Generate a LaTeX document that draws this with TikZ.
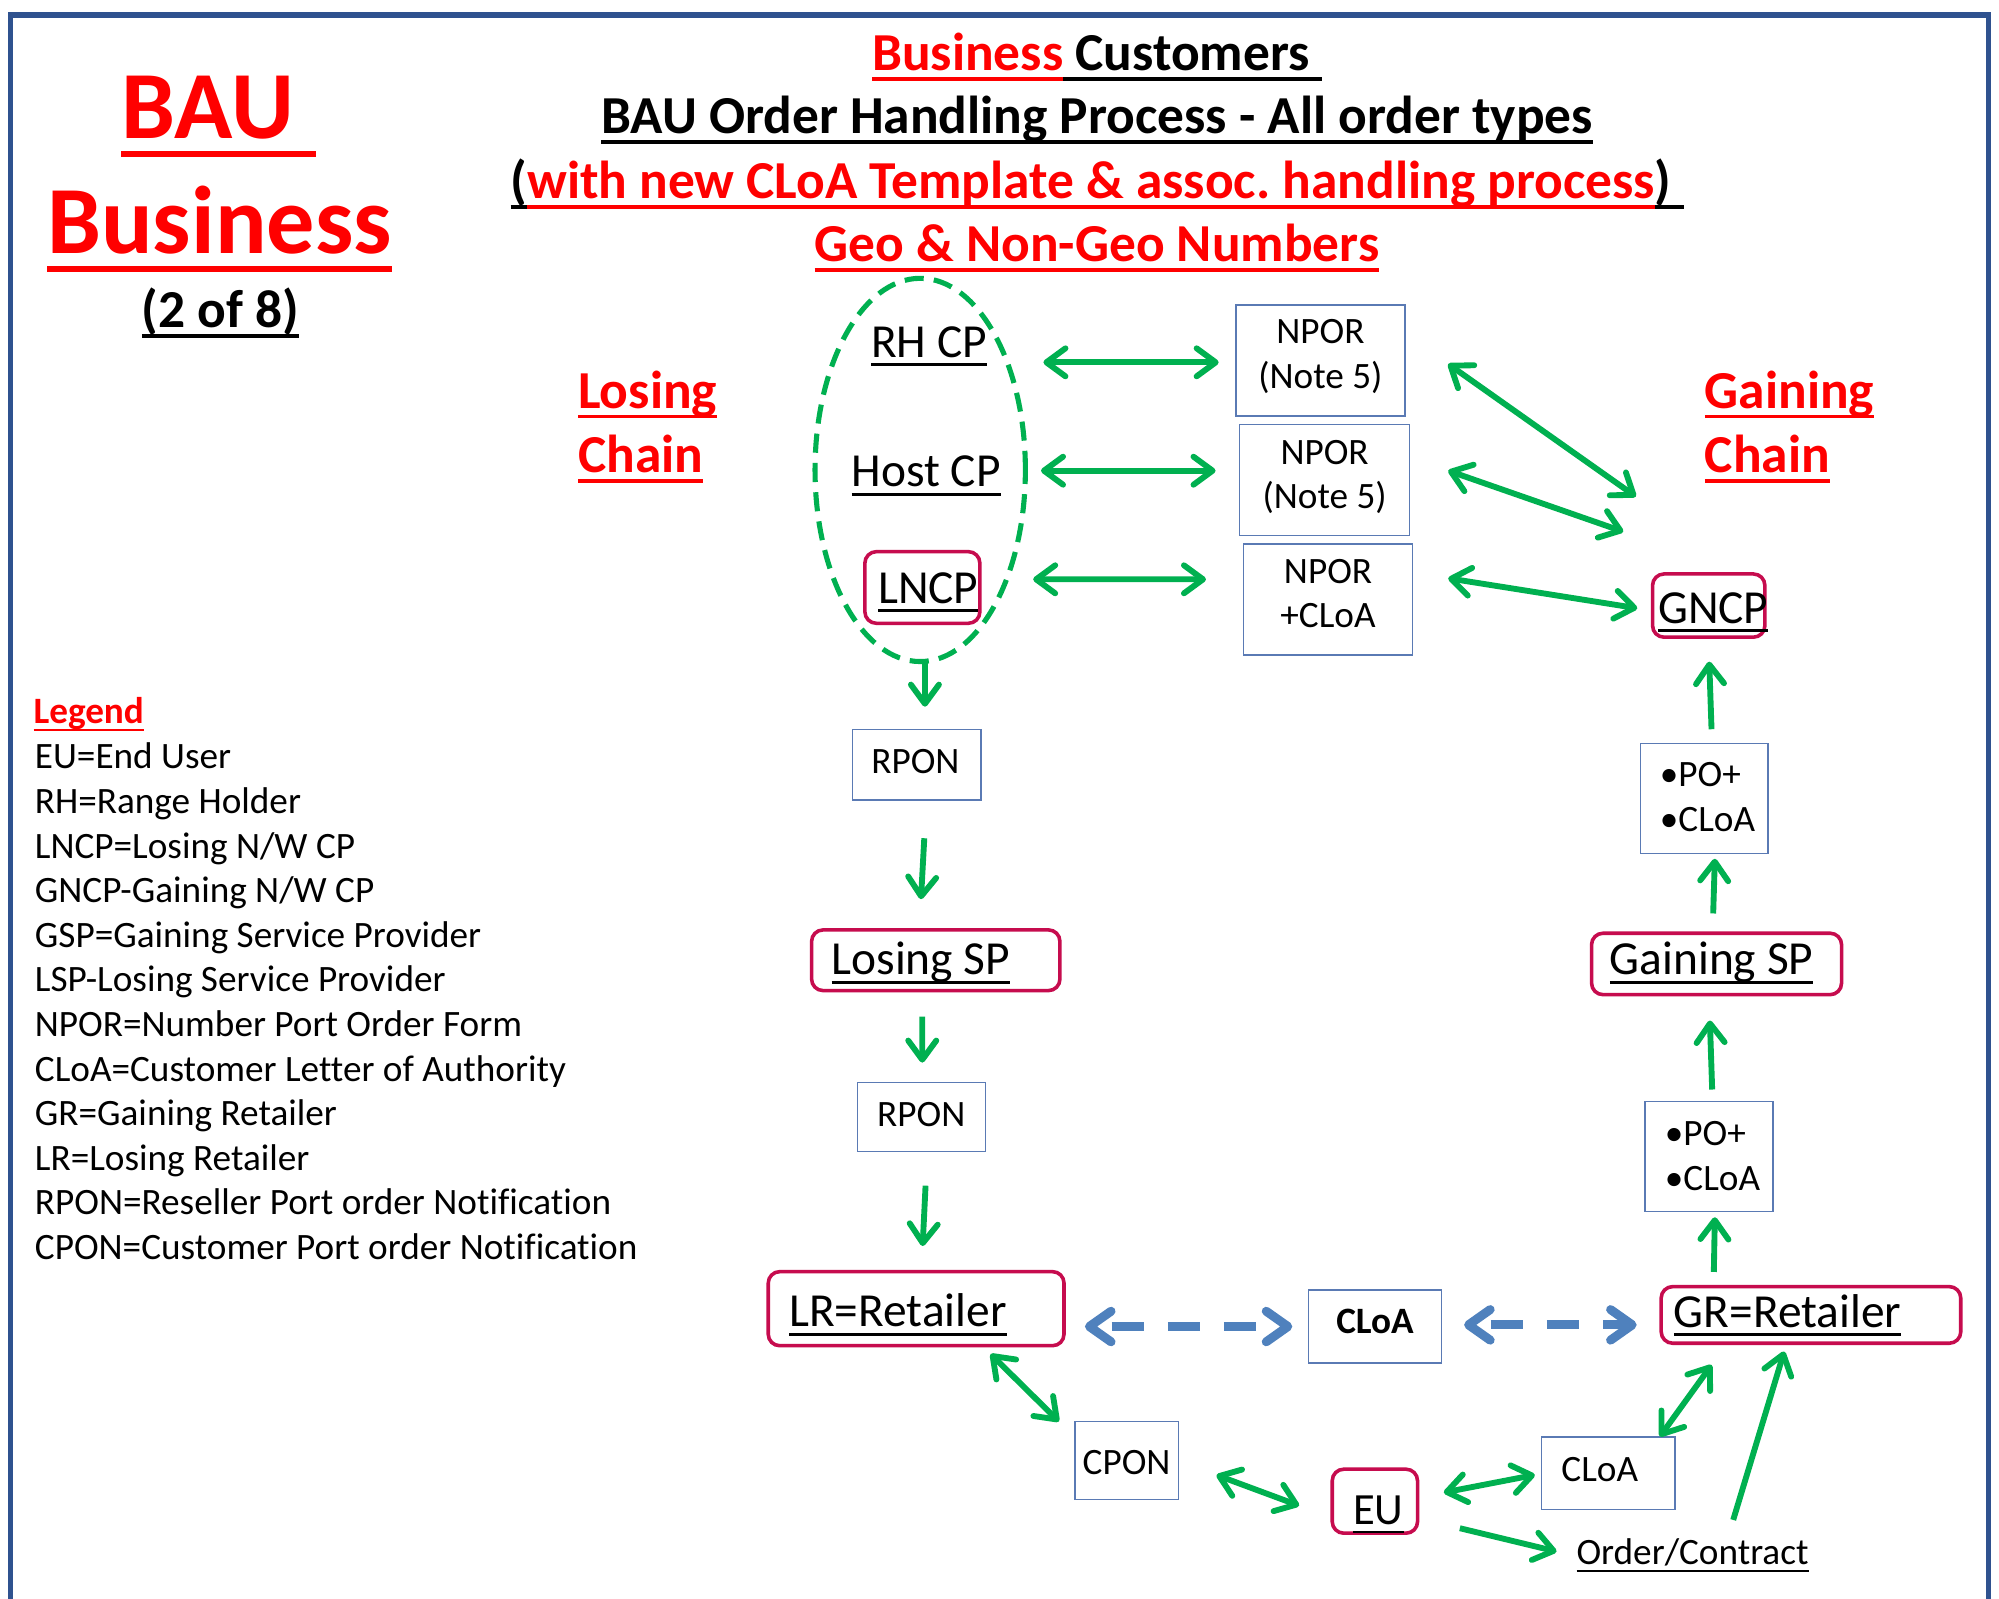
\documentclass[tikz,border=0pt]{standalone}
\usepackage{fontspec}
\setmainfont{Carlito}[Ligatures=NoCommon]
\usetikzlibrary{arrows.meta,calc,shapes.geometric}
\definecolor{frameblue}{RGB}{47,82,143}
\definecolor{agreen}{RGB}{0,176,80}
\definecolor{ablue}{RGB}{79,129,189}
\definecolor{crim}{RGB}{198,12,78}
\definecolor{boxline}{RGB}{90,122,180}
\definecolor{tred}{RGB}{255,0,0}
\newcommand\undl[1]{\setbox0\hbox{#1}\rlap{\rule[-0.19em]{\wd0}{0.062em}}\box0}
\newcommand\fntT{\fontsize{41.9}{50}\selectfont\bfseries}
\newcommand\fntH{\fontsize{75.5}{90}\selectfont\bfseries}
\newcommand\fntB{\fontsize{37.2}{44}\selectfont}
\newcommand\fntE{\fontsize{35}{42}\selectfont}
\newcommand\fntS{\fontsize{29.2}{35}\selectfont}
\frenchspacing
\begin{document}
\begin{tikzpicture}[x=1pt,y=-1pt,
  every node/.style={inner sep=0pt,outer sep=0pt},
  txt/.style={anchor=base west},
  ctxt/.style={anchor=base},
  pbox/.style={draw=boxline,line width=1.1pt,fill=white,rectangle},
  rbox/.style={draw=crim,line width=2.8pt,rounded corners=9pt,rectangle},
  gtip/.tip={Straight Barb[length=15pt,width=22pt,round]},
  btip/.tip={Straight Barb[length=17pt,width=24pt,round]},
  garr/.style={draw=agreen,line width=4.6pt,-gtip},
  gdbl/.style={draw=agreen,line width=4.6pt,gtip-gtip},
  bdbl/.style={draw=ablue,line width=7pt,btip-btip,dash pattern=on 25pt off 19pt,dash phase=30pt}]
\useasboundingbox (0,0) rectangle (1568,1253.5);
\fill[white] (0,0) rectangle (1568,1253.5);
\draw[frameblue,line width=4pt,line join=miter] (8,1260) -- (8,11.8) -- (1560,11.8) -- (1560,1260);

% titles
\node[txt] (bau) at (95.3,108.5) {\fntH\color{tred}\undl{BAU\ }};
\node[txt] (bus) at (37.1,198.7) {\fntH\color{tred}\undl{Business}};
\node[ctxt] (part) at (173,257) {\fntT\undl{(2 of 8)}};
\node[ctxt] (t1) at (860.5,55.4) {\fntT\textcolor{tred}{\undl{Business}}\undl{\ Customers\ }};
\node[ctxt] (t2) at (860.5,104.6) {\fntT\undl{BAU Order Handling Process - All order types}};
\node[ctxt] (t3) at (860.5,155.6) {\fntT\undl{(}\textcolor{tred}{\undl{with new CLoA Template \& assoc. handling process}}\undl{)\ }};
\node[ctxt] (t4) at (860.5,205) {\fntT\color{tred}\undl{Geo \& Non-Geo Numbers}};
\node[txt] (los1) at (453.5,320.3) {\fntT\color{tred}\undl{Losing}};
\node[txt] (los2) at (453.5,370.7) {\fntT\color{tred}\undl{Chain}};
\node[txt] (gai1) at (1337.3,320.3) {\fntT\color{tred}\undl{Gaining}};
\node[txt] (gai2) at (1337.3,370.7) {\fntT\color{tred}\undl{Chain}};

% legend
\node[txt] (leg) at (26.3,567.8) {\fntS\bfseries\color{tred}\undl{Legend}};
\node[txt] (l1) at (27.4,603) {\fntS EU=End User};
\node[txt] (l2) at (27.4,638) {\fntS RH=Range Holder};
\node[txt] (l3) at (27.4,673) {\fntS LNCP=Losing N/W CP};
\node[txt] (l4) at (27.4,708) {\fntS GNCP-Gaining N/W CP};
\node[txt] (l5) at (27.4,743) {\fntS GSP=Gaining Service Provider};
\node[txt] (l6) at (27.4,778) {\fntS LSP-Losing Service Provider};
\node[txt] (l7) at (27.4,813) {\fntS NPOR=Number Port Order Form};
\node[txt] (l8) at (27.4,848) {\fntS CLoA=Customer Letter of Authority};
\node[txt] (l9) at (27.4,883) {\fntS GR=Gaining Retailer};
\node[txt] (l10) at (27.4,918) {\fntS LR=Losing Retailer};
\node[txt] (l11) at (27.4,953) {\fntS RPON=Reseller Port order Notification};
\node[txt] (l12) at (27.4,988) {\fntS CPON=Customer Port order Notification};

% losing chain
\node[ellipse,draw=agreen,line width=4pt,dash pattern=on 15pt off 8pt,minimum width=165pt,minimum height=300.6pt] (ell) at (721.8,368.6) {};
\node[txt] (rhcp) at (683.3,280.3) {\fntB\undl{RH CP}};
\node[txt] (hostcp) at (668,381.7) {\fntB\undl{Host CP}};
\node[rbox,minimum width=90.2pt,minimum height=56.2pt] (lncp) at (723.5,460.8) {};
\node[txt] (lncpt) at (688.8,473.2) {\fntB\undl{LNCP}};

\node[pbox,minimum width=132.6pt,minimum height=87.1pt] (npor1) at (1035.7,282.75) {};
\node[ctxt] (n1a) at (1035.7,269.8) {\fntS NPOR};
\node[ctxt] (n1b) at (1035.7,304.6) {\fntS (Note 5)};
\node[pbox,minimum width=133.1pt,minimum height=87.4pt] (npor2) at (1039,376.5) {};
\node[ctxt] (n2a) at (1039,364.2) {\fntS NPOR};
\node[ctxt] (n2b) at (1039,398.7) {\fntS (Note 5)};
\node[pbox,minimum width=132.5pt,minimum height=87pt] (npor3) at (1041.7,470.2) {};
\node[ctxt] (n3a) at (1041.7,457.5) {\fntS NPOR};
\node[ctxt] (n3b) at (1041.7,492) {\fntS +CLoA};

\node[rbox,minimum width=88.1pt,minimum height=49.6pt] (gncp) at (1340.3,475) {};
\node[txt] (gncpt) at (1300.6,488.9) {\fntB\undl{GNCP}};

\node[pbox,minimum width=100.6pt,minimum height=55.5pt] (rpon1) at (719.1,599.75) {};
\node[ctxt] (rpon1t) at (718,606.5) {\fntS RPON};
\node[rbox,minimum width=194.8pt,minimum height=47.6pt] (lsp) at (734,753.2) {};
\node[txt] (lspt) at (652.3,764.7) {\fntB\undl{Losing SP}};
\node[pbox,minimum width=100.4pt,minimum height=54.4pt] (rpon2) at (722.6,876.1) {};
\node[ctxt] (rpon2t) at (722.6,883.7) {\fntS RPON};
\node[rbox,minimum width=232pt,minimum height=58.1pt] (lr) at (718.6,1026.5) {};
\node[txt] (lrt) at (619,1040.8) {\fntB\undl{LR=Retailer}};

\node[pbox,minimum width=104.4pt,minimum height=57.5pt] (cloa1) at (1078.5,1040.5) {};
\node[ctxt] (cloa1t) at (1078.5,1045.8) {\fntS\bfseries CLoA};
\node[rbox,minimum width=235pt,minimum height=44.4pt] (gr) at (1420.5,1031.4) {};
\node[txt] (grt) at (1313,1041) {\fntB\undl{GR=Retailer}};
\node[pbox,minimum width=81.1pt,minimum height=61pt] (cpon) at (883.65,1145.5) {};
\node[ctxt] (cpont) at (883.65,1156.9) {\fntS CPON};
\node[rbox,minimum width=66.9pt,minimum height=50.2pt] (eu) at (1078.45,1177.5) {};
\node[txt] (eut) at (1061.4,1196.1) {\fntE\undl{EU}};
\node[pbox,minimum width=104.5pt,minimum height=56.5pt] (cloa2) at (1261.45,1155.55) {};
\node[txt] (cloa2t) at (1224.8,1162.1) {\fntS CLoA};
\node[txt] (order) at (1236.6,1227.5) {\fntS\undl{Order/Contract}};

\node[pbox,minimum width=100.1pt,minimum height=86.3pt] (po1) at (1336.85,626.15) {};
\node[txt] (po1a) at (1302,617) {\fntS •PO+};
\node[txt] (po1b) at (1302,652.3) {\fntS •CLoA};
\node[rbox,minimum width=196.1pt,minimum height=48.2pt] (gsp) at (1346.45,756.1) {};
\node[txt] (gspt) at (1262.7,764.5) {\fntB\undl{Gaining SP}};
\node[pbox,minimum width=100.4pt,minimum height=86.2pt] (po2) at (1340.6,907.3) {};
\node[txt] (po2a) at (1305.9,898.7) {\fntS •PO+};
\node[txt] (po2b) at (1305.9,934.1) {\fntS •CLoA};

% connectors
\draw[gdbl] ($(rhcp.base east)+(44.3,3.9)$) -- ($(npor1.west)+(-13.5,1.45)$);
\draw[gdbl] ($(hostcp.base east)+(31.7,-12.5)$) -- ($(npor2.west)+(-19,-7.3)$);
\draw[gdbl] ($(lncp.east)+(41.8,-6.4)$) -- ($(npor3.west)+(-29.5,-15.8)$);
\draw[gdbl] ($(npor1.east)+(33.9,2.75)$) -- ($(gncp.north west)+(-13.1,-60.7)$);
\draw[gdbl] ($(npor2.east)+(30.4,-7.3)$) -- ($(gncp.north west)+(-23,-33.2)$);
\draw[gdbl] ($(npor3.east)+(28,-16.6)$) -- ($(gncp.west)+(-12,2.1)$);
\draw[garr] ($(ell.south)+(3.7,-1)$) -- ($(rpon1.north)+(6.4,-17.7)$);
\draw[garr] ($(rpon1.south)+(5.9,30)$) -- ($(lsp.north)+(-11.6,-24.1)$);
\draw[garr] ($(lsp.south)+(-10.6,20.4)$) -- ($(rpon2.north)+(0.8,-15.4)$);
\draw[garr] ($(rpon2.south)+(3.4,26.7)$) -- ($(lr.north)+(5.1,-20.1)$);
\draw[gdbl] ($(lr.south)+(58.4,6.5)$) -- ($(cpon.north west)+(-12.5,0)$);
\draw[gdbl] ($(cpon.east)+(30,11.5)$) -- ($(eu.west)+(-26,3.5)$);
\draw[gdbl] ($(eu.east)+(20.6,-6.8)$) -- ($(cloa2.west)+(-5.3,1.35)$);
\draw[garr] ($(eu.east)+(33.2,21.2)$) -- ($(order.base west)+(-15.7,-10.5)$);
\draw[gdbl] ($(cloa2.north east)+(-11.7,-0.5)$) -- ($(gr.south west)+(39.6,17)$);
\draw[garr] ($(order.base west)+(122.9,-35.3)$) -- ($(gr.south west)+(96.5,6.5)$);
\draw[garr] ($(gr.north west)+(41.3,-11.5)$) -- ($(po2.south)+(4.5,4.4)$);
\draw[garr] ($(po2.north)+(2.4,-9.6)$) -- ($(gsp.south)+(-5.25,20.3)$);
\draw[garr] ($(gsp.north)+(-2.65,-15.5)$) -- ($(po1.south)+(8.25,4.3)$);
\draw[garr] ($(po1.north)+(5.65,-11)$) -- ($(gncp.south)+(0.4,19.2)$);
\draw[bdbl] ($(lr.east)+(16.4,14)$) -- ($(cloa1.west)+(-12.6,0)$);
\draw[bdbl] ($(cloa1.east)+(17.7,-1.3)$) -- ($(gr.west)+(-19.2,7.8)$);
\end{tikzpicture}
\end{document}
